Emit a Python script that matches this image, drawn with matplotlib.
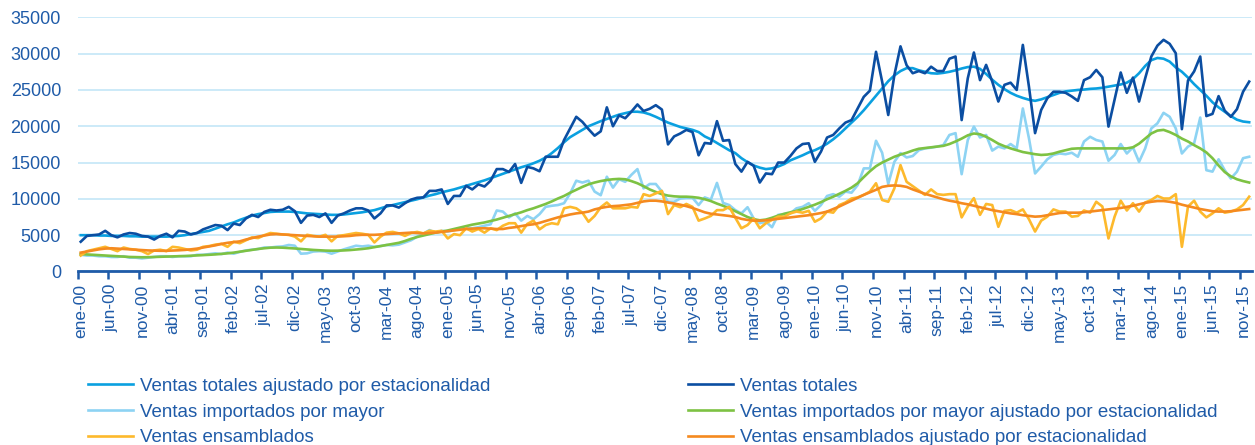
import numpy as np
import matplotlib
matplotlib.use("Agg")
import matplotlib.pyplot as plt

plt.rcParams['font.family'] = ['Liberation Sans', 'DejaVu Sans']

# =========================================================
# DATA  (monthly, ene-00 .. dic-15)
# =========================================================
month_abbr = ["ene", "feb", "mar", "abr", "may", "jun",
              "jul", "ago", "sep", "oct", "nov", "dic"]
years = list(range(2000, 2016))
categories = [f"{m}-{y % 100:02d}" for y in years for m in month_abbr]

ventas_totales_aj = [
    5000, 5000, 5000, 4950, 4950, 4900, 4900, 4900, 4850, 4850, 4800, 4800,
    4800, 4800, 4800, 4850, 4900, 5000, 5150, 5300, 5450, 5600, 5900, 6200,
    6500, 6750, 7100, 7400, 7700, 7900, 8050, 8200, 8250, 8250, 8250, 8200,
    8100, 8000, 7950, 7900, 7850, 7800, 7800, 7850, 7950, 8050, 8150, 8300,
    8450, 8700, 8950, 9150, 9350, 9550, 9750, 9950, 10200, 10450, 10650, 10900,
    11100, 11300, 11550, 11800, 12050, 12300, 12550, 12850, 13150, 13450, 13750, 14050,
    14350, 14600, 14900, 15250, 15700, 16300, 17000, 17800, 18500, 19000, 19500, 20000,
    20350, 20700, 21000, 21300, 21600, 21800, 22000, 22000, 21900, 21650, 21300, 20900,
    20500, 20200, 19900, 19700, 19500, 19200, 18600, 18200, 17700, 17200, 16700, 16300,
    15600, 15050, 14600, 14300, 14100, 14200, 14450, 14800, 15300, 15650, 16000, 16400,
    16700, 17100, 17600, 18200, 18900, 19700, 20500, 21300, 22200, 23200, 24200, 25200,
    26200, 27000, 27600, 28000, 28000, 27700, 27500, 27300, 27250, 27350, 27500, 27700,
    27950, 28150, 28200, 27900, 27200, 26400, 25700, 25100, 24600, 24200, 23900, 23650,
    23500, 23700, 24000, 24300, 24600, 24800, 24900, 25000, 25050, 25150, 25200, 25300,
    25450, 25600, 25750, 26000, 26500, 27300, 28300, 29100, 29400, 29300, 28900, 28100,
    27500, 26700, 25800, 25000, 24200, 23300, 22600, 22000, 21400, 20900, 20650, 20550,
]

ventas_totales = [
    4100, 4900, 5000, 5100, 5600, 5000, 4700, 5100, 5300, 5200, 4900, 4800,
    4400, 4900, 5200, 4700, 5600, 5500, 5100, 5300, 5800, 6100, 6400, 6300,
    5700, 6600, 6400, 7300, 7800, 7500, 8200, 8500, 8400, 8500, 8900, 8300,
    6700, 7700, 7800, 7500, 8000, 6700, 7700, 8000, 8400, 8700, 8700, 8400,
    7300, 8000, 9100, 9100, 8800, 9400, 9900, 10150, 10200, 11100, 11100, 11300,
    9300, 10400, 10400, 11800, 11300, 12000, 11700, 12500, 14100, 14100, 13700, 14800,
    12200, 14400, 14200, 13800, 15800, 15800, 15800, 18100, 19700, 21300, 20600, 19600,
    18700, 19300, 22600, 20000, 21500, 21100, 22000, 23000, 22100, 22400, 22900, 22300,
    17500, 18600, 19000, 19500, 19200, 16000, 17700, 17600, 20700, 18000, 18100, 14800,
    13750, 15100, 14550, 12250, 13500, 13400, 15000, 15000, 15900, 16950, 17550, 17650,
    15100, 16500, 18450, 18800, 19700, 20500, 20850, 22450, 24050, 24900, 30250, 26150,
    21550, 27050, 31000, 28400, 27300, 27600, 27300, 28200, 27600, 27600, 29300, 29600,
    20850, 26600, 30150, 26350, 28450, 26150, 23400, 25700, 26000, 25000, 31200, 25450,
    19050, 22250, 23850, 24750, 24750, 24600, 24100, 23500, 26350, 26750, 27750, 26750,
    19950, 23700, 27400, 24600, 26700, 23400, 26600, 29600, 31100, 31900, 31350, 30050,
    19600, 26300, 27550, 29600, 21400, 21700, 24150, 22150, 21300, 22350, 24750, 26150,
]

importados = [
    2300, 2200, 2200, 2100, 2100, 2000, 2000, 2100, 1900, 1900, 1800, 1900,
    2000, 2100, 2100, 2000, 2100, 2100, 2100, 2300, 2300, 2400, 2500, 2400,
    2600, 2450, 2700, 2900, 3000, 3100, 3300, 3300, 3400, 3450, 3650, 3550,
    2450, 2500, 2750, 2800, 2750, 2450, 2750, 3050, 3300, 3550, 3450, 3550,
    3400, 3500, 3650, 3600, 3700, 4000, 4300, 4800, 5200, 5700, 5350, 5600,
    5500, 5700, 5850, 6000, 5950, 6100, 6300, 6500, 8400, 8250, 7450, 8000,
    7000, 7650, 7200, 7900, 8900, 9050, 9150, 9400, 10750, 12500, 12250, 12500,
    11000, 10500, 13050, 11550, 12700, 12350, 13300, 14100, 11450, 12050, 12050, 11000,
    9600, 9600, 10050, 10150, 10150, 9150, 10200, 9900, 12200, 9450, 9150, 8450,
    8000, 8850, 7300, 6650, 6850, 6100, 7800, 7900, 8000, 8700, 8900, 9400,
    8350, 9150, 10400, 10650, 10300, 11000, 10850, 11900, 14200, 14200, 18000, 16350,
    12050, 15100, 16300, 15700, 15900, 16700, 16950, 17050, 17200, 17400, 18800, 19050,
    13400, 18100, 19950, 18450, 18800, 16650, 17200, 16950, 17550, 16950, 22450, 18350,
    13500, 14450, 15450, 16050, 16250, 16150, 16350, 15800, 17900, 18550, 18100, 17900,
    15250, 16050, 17550, 16250, 17100, 15100, 16950, 19700, 20400, 21850, 21300, 19700,
    16250, 17200, 17650, 21200, 13950, 13750, 15450, 13950, 12800, 13750, 15600, 15800,
]

importados_aj = [
    2400, 2350, 2300, 2250, 2200, 2150, 2100, 2050, 2000, 1980, 1960, 1970,
    2000, 2020, 2050, 2080, 2100, 2130, 2170, 2200, 2250, 2300, 2350, 2420,
    2500, 2600, 2720, 2850, 2980, 3100, 3200, 3280, 3300, 3280, 3230, 3170,
    3100, 3030, 2970, 2920, 2880, 2860, 2870, 2900, 2950, 3020, 3100, 3200,
    3350, 3500, 3650, 3800, 3950, 4200, 4500, 4750, 4950, 5150, 5350, 5500,
    5650, 5850, 6050, 6250, 6450, 6600, 6750, 6950, 7150, 7400, 7650, 7900,
    8150, 8450, 8700, 9000, 9300, 9650, 10050, 10400, 10850, 11250, 11650, 12000,
    12250, 12450, 12600, 12700, 12750, 12700, 12450, 12150, 11750, 11300, 10950, 10650,
    10450, 10350, 10300, 10300, 10250, 10150, 9950, 9700, 9350, 9050, 8700, 8300,
    7900, 7500, 7200, 7050, 7150, 7400, 7700, 7950, 8150, 8350, 8600, 8900,
    9200, 9550, 9950, 10300, 10700, 11100, 11550, 12150, 13000, 13800, 14500, 15000,
    15400, 15800, 16100, 16350, 16650, 16900, 17000, 17100, 17200, 17300, 17550, 17900,
    18300, 18750, 19000, 18900, 18550, 18100, 17600, 17250, 16950, 16700, 16450, 16300,
    16150, 16050, 16100, 16250, 16500, 16700, 16900, 16950, 16950, 16950, 16950, 16950,
    16950, 16950, 16950, 16950, 17100, 17600, 18300, 19000, 19400, 19500, 19200, 18800,
    18300, 17900, 17400, 16950, 16400, 15600, 14600, 13700, 13100, 12700, 12450, 12250,
]

ensamblados = [
    2200, 2800, 3000, 3200, 3400, 3100, 2800, 3300, 3100, 3000, 2800, 2400,
    2900, 3000, 2800, 3400, 3300, 3100, 2900, 3000, 3400, 3500, 3700, 3800,
    3400, 4100, 3900, 4300, 4700, 4600, 5000, 5300, 5200, 5100, 5050, 4800,
    4150, 5050, 4900, 4800, 5050, 4150, 4900, 5000, 5150, 5300, 5200, 5050,
    4000, 4800, 5350, 5450, 5250, 4900, 5300, 5450, 5250, 5600, 5500, 5600,
    4550, 5150, 5000, 5950, 5500, 5850, 5350, 5950, 5700, 6300, 6650, 6650,
    5350, 6550, 7000, 5800, 6400, 6650, 6500, 8700, 8900, 8700, 8100, 6850,
    7650, 8850, 9500, 8700, 8700, 8700, 8900, 8800, 10650, 10400, 10750, 11100,
    7900, 9150, 8850, 9300, 8900, 7000, 7300, 7650, 8450, 8450, 8900, 7400,
    5950, 6400, 7300, 5950, 6650, 7100, 7550, 7550, 8000, 8250, 8100, 8350,
    6850, 7300, 8250, 8100, 9150, 9500, 10050, 10200, 10550, 11000, 12150, 9850,
    9600, 11450, 14650, 12350, 11750, 11150, 10550, 11300, 10650, 10550, 10650, 10650,
    7450, 8950, 10100, 7800, 9300, 9150, 6150, 8350, 8450, 8100, 8550, 7200,
    5500, 7000, 7550, 8550, 8250, 8250, 7550, 7650, 8400, 8100, 9600, 8950,
    4550, 7550, 9750, 8400, 9400, 8250, 9500, 9850, 10400, 10050, 10050, 10650,
    3400, 8950, 9750, 8250, 7450, 8000, 8700, 8100, 8250, 8550, 9150, 10300,
]

ensamblados_aj = [
    2600, 2750, 2900, 3050, 3150, 3200, 3150, 3100, 3050, 3000, 2950, 2900,
    2870, 2850, 2850, 2880, 2920, 2970, 3050, 3150, 3300, 3450, 3600, 3800,
    3950, 4050, 4150, 4400, 4600, 4800, 4950, 5100, 5150, 5100, 5050, 5000,
    4950, 4900, 4850, 4800, 4800, 4800, 4800, 4850, 4900, 5000, 5050, 5050,
    5050, 5100, 5150, 5200, 5250, 5300, 5350, 5300, 5250, 5300, 5350, 5450,
    5550, 5650, 5750, 5850, 5900, 5950, 5950, 5900, 5850, 5850, 6000, 6100,
    6250, 6400, 6500, 6700, 6950, 7200, 7450, 7650, 7850, 8000, 8100, 8250,
    8550, 8750, 8900, 9000, 9050, 9150, 9250, 9450, 9650, 9750, 9750, 9650,
    9500, 9350, 9200, 9000, 8750, 8450, 8150, 7950, 7850, 7750, 7650, 7500,
    7250, 7100, 7000, 7000, 7050, 7150, 7250, 7350, 7450, 7550, 7650, 7750,
    7900, 8050, 8250, 8600, 8950, 9350, 9750, 10150, 10550, 10900, 11250, 11650,
    11800, 11850, 11800, 11650, 11300, 11000, 10700, 10450, 10200, 9950, 9750, 9600,
    9400, 9250, 9050, 8850, 8650, 8450, 8300, 8150, 8000, 7900, 7750, 7650,
    7550, 7600, 7750, 7900, 8050, 8100, 8100, 8100, 8150, 8250, 8350, 8450,
    8550, 8650, 8750, 8900, 9050, 9250, 9450, 9600, 9700, 9700, 9600, 9450,
    9200, 9000, 8800, 8600, 8450, 8300, 8250, 8250, 8300, 8400, 8500, 8600,
]

labels = [
    "Ventas totales ajustado por estacionalidad",
    "Ventas totales",
    "Ventas importados por mayor",
    "Ventas importados por mayor ajustado por estacionalidad",
    "Ventas ensamblados",
    "Ventas ensamblados ajustado por estacionalidad",
]

# =========================================================
# STYLE
# =========================================================
TXT = "#1F5BA8"
GRID = "#C8E8F8"
colors = ["#0AA0E0", "#0B4EA2", "#8DD3F3", "#7DC243", "#FDB92C", "#F58A1F"]
series = [ventas_totales_aj, ventas_totales, importados,
          importados_aj, ensamblados, ensamblados_aj]

# =========================================================
# PLOT
# =========================================================
fig = plt.figure(figsize=(12.55, 4.45), dpi=100)
ax = fig.add_axes([0.0619, 0.3899, 0.9359, 0.5712])

x = np.arange(len(categories))
lines = []
for vals, col, lab in zip(series, colors, labels):
    ln, = ax.plot(x, vals, color=col, lw=1.9, label=lab,
                  solid_joinstyle="round", zorder=3)
    lines.append(ln)

ax.set_xlim(-0.5, len(categories) - 0.5)
ax.set_ylim(0, 35000)
ax.set_yticks(np.arange(0, 35001, 5000))
ax.grid(axis="y", color=GRID, lw=1.3, zorder=0)
ax.set_axisbelow(True)

# tick marks at category boundaries, labels centred on category
tick_idx = np.arange(0, len(categories), 5)
ax.set_xticks(tick_idx - 0.5)
ax.set_xticklabels([])
ax.set_xticks(tick_idx, labels=[categories[i] for i in tick_idx], minor=True)
ax.tick_params(axis="x", which="major", direction="out", length=6,
               width=1.8, color=TXT)
ax.tick_params(axis="x", which="minor", length=0, pad=9,
               labelsize=12.5, labelcolor=TXT, labelrotation=90)
ax.tick_params(axis="y", length=0, pad=12, labelsize=13, labelcolor=TXT)

for s in ["top", "right", "left"]:
    ax.spines[s].set_visible(False)
ax.spines["bottom"].set_color(TXT)
ax.spines["bottom"].set_linewidth(2)

# legend: two columns placed as two separate blocks
leg_kw = dict(loc="upper left", frameon=False, fontsize=13.5,
              labelcolor=TXT, handlelength=2.4, handletextpad=0.35,
              labelspacing=0.47, borderpad=0, borderaxespad=0)
fig.legend([lines[0], lines[2], lines[4]],
           [labels[0], labels[2], labels[4]],
           bbox_to_anchor=(88 / 1255, 1 - 377.5 / 445), **leg_kw)
fig.legend([lines[1], lines[3], lines[5]],
           [labels[1], labels[3], labels[5]],
           bbox_to_anchor=(688 / 1255, 1 - 377.5 / 445), **leg_kw)

fig.savefig("out.png", dpi=100)
plt.close(fig)
